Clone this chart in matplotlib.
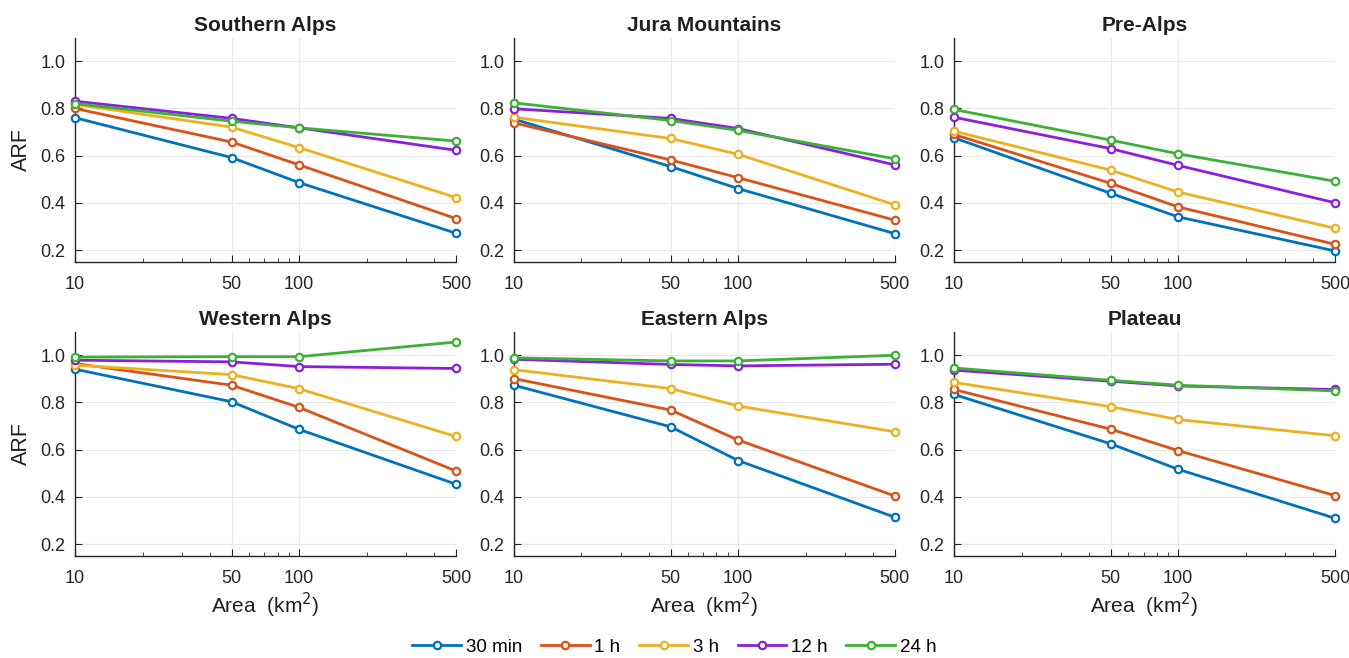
import numpy as np
import matplotlib
matplotlib.use('Agg')
from matplotlib import pyplot as plt
from matplotlib.ticker import FixedLocator, LogLocator, NullFormatter

plt.rcParams['font.family'] = ['Liberation Sans', 'DejaVu Sans']

#%% Data
area = [10, 50, 100, 500]
durations = ['30 min', '1 h', '3 h', '12 h', '24 h']
colors = ['#0072BD', '#D95319', '#EDB120', '#8A1FE0', '#3DB135']

regions = ['Southern Alps', 'Jura Mountains', 'Pre-Alps',
           'Western Alps', 'Eastern Alps', 'Plateau']

southern_alps = [[0.761, 0.592, 0.486, 0.272],
                 [0.800, 0.658, 0.561, 0.334],
                 [0.817, 0.721, 0.634, 0.423],
                 [0.831, 0.758, 0.718, 0.623],
                 [0.821, 0.746, 0.718, 0.662]]
jura_mountains = [[0.755, 0.554, 0.461, 0.270],
                  [0.739, 0.582, 0.507, 0.327],
                  [0.763, 0.673, 0.606, 0.392],
                  [0.799, 0.758, 0.715, 0.561],
                  [0.824, 0.749, 0.707, 0.587]]
pre_alps = [[0.676, 0.441, 0.341, 0.197],
            [0.690, 0.483, 0.383, 0.225],
            [0.704, 0.539, 0.446, 0.293],
            [0.763, 0.630, 0.559, 0.401],
            [0.796, 0.666, 0.608, 0.492]]
western_alps = [[0.941, 0.803, 0.686, 0.454],
                [0.965, 0.873, 0.779, 0.510],
                [0.958, 0.918, 0.858, 0.656],
                [0.979, 0.972, 0.952, 0.944],
                [0.992, 0.994, 0.994, 1.056]]
eastern_alps = [[0.873, 0.697, 0.554, 0.314],
                [0.901, 0.768, 0.641, 0.404],
                [0.939, 0.859, 0.785, 0.676],
                [0.983, 0.961, 0.955, 0.962],
                [0.989, 0.976, 0.976, 1.000]]
plateau = [[0.834, 0.625, 0.517, 0.310],
           [0.855, 0.687, 0.596, 0.406],
           [0.885, 0.782, 0.728, 0.659],
           [0.937, 0.890, 0.870, 0.855],
           [0.946, 0.894, 0.873, 0.849]]

region_data = [southern_alps, jura_mountains, pre_alps,
               western_alps, eastern_alps, plateau]

#%% Plot
fig = plt.figure(figsize=(13.49, 6.58), dpi=100)

lefts = [0.0556, 0.381, 0.7072]
bottoms = [0.6018, 0.155]
w, h = 0.2824, 0.341

handles = []
for idx, (name, data) in enumerate(zip(regions, region_data)):
    row, col = divmod(idx, 3)
    ax = fig.add_axes([lefts[col], bottoms[row], w, h])
    for k, vals in enumerate(data):
        ln, = ax.plot(area, vals, color=colors[k], lw=2, marker='o', ms=5.3,
                      mfc='white', mew=1.6, label=durations[k], clip_on=False,
                      zorder=3)
        if idx == 0:
            handles.append(ln)

    ax.set_xscale('log')
    ax.set_xlim(10, 500)
    ax.set_ylim(0.15, 1.1)
    ax.xaxis.set_major_locator(FixedLocator(area))
    ax.set_xticklabels([str(a) for a in area])
    ax.xaxis.set_minor_locator(LogLocator(base=10, subs=np.arange(2, 10)))
    ax.xaxis.set_minor_formatter(NullFormatter())
    ax.set_yticks([0.2, 0.4, 0.6, 0.8, 1.0])
    ax.set_yticklabels(['0.2', '0.4', '0.6', '0.8', '1.0'])

    ax.grid(True, which='major', color='#e8e8e8', lw=0.9)
    ax.set_axisbelow(True)
    for s in ['top', 'right']:
        ax.spines[s].set_visible(False)
    for s in ['left', 'bottom']:
        ax.spines[s].set_color('#262626')
        ax.spines[s].set_linewidth(1.0)
    ax.tick_params(which='both', direction='in', colors='#262626',
                   labelsize=13)
    ax.tick_params(axis='x', pad=10)
    ax.tick_params(axis='y', pad=7)
    ax.tick_params(which='major', length=5)
    ax.tick_params(which='minor', length=3)

    ax.set_title(name, fontsize=15, fontweight='bold', color='#202020', pad=5)
    if col == 0:
        ax.set_ylabel('ARF', fontsize=15.5, color='#202020', labelpad=6)
    if row == 1:
        ax.set_xlabel('Area  (km$^2$)', fontsize=15, color='#202020', labelpad=3)

fig.legend(handles=handles, loc='center', bbox_to_anchor=(0.5, 0.016), ncol=5,
           frameon=False, fontsize=13.5, handlelength=2.6, columnspacing=1.0,
           handletextpad=0.25)

plt.savefig('out.png', dpi=100)
